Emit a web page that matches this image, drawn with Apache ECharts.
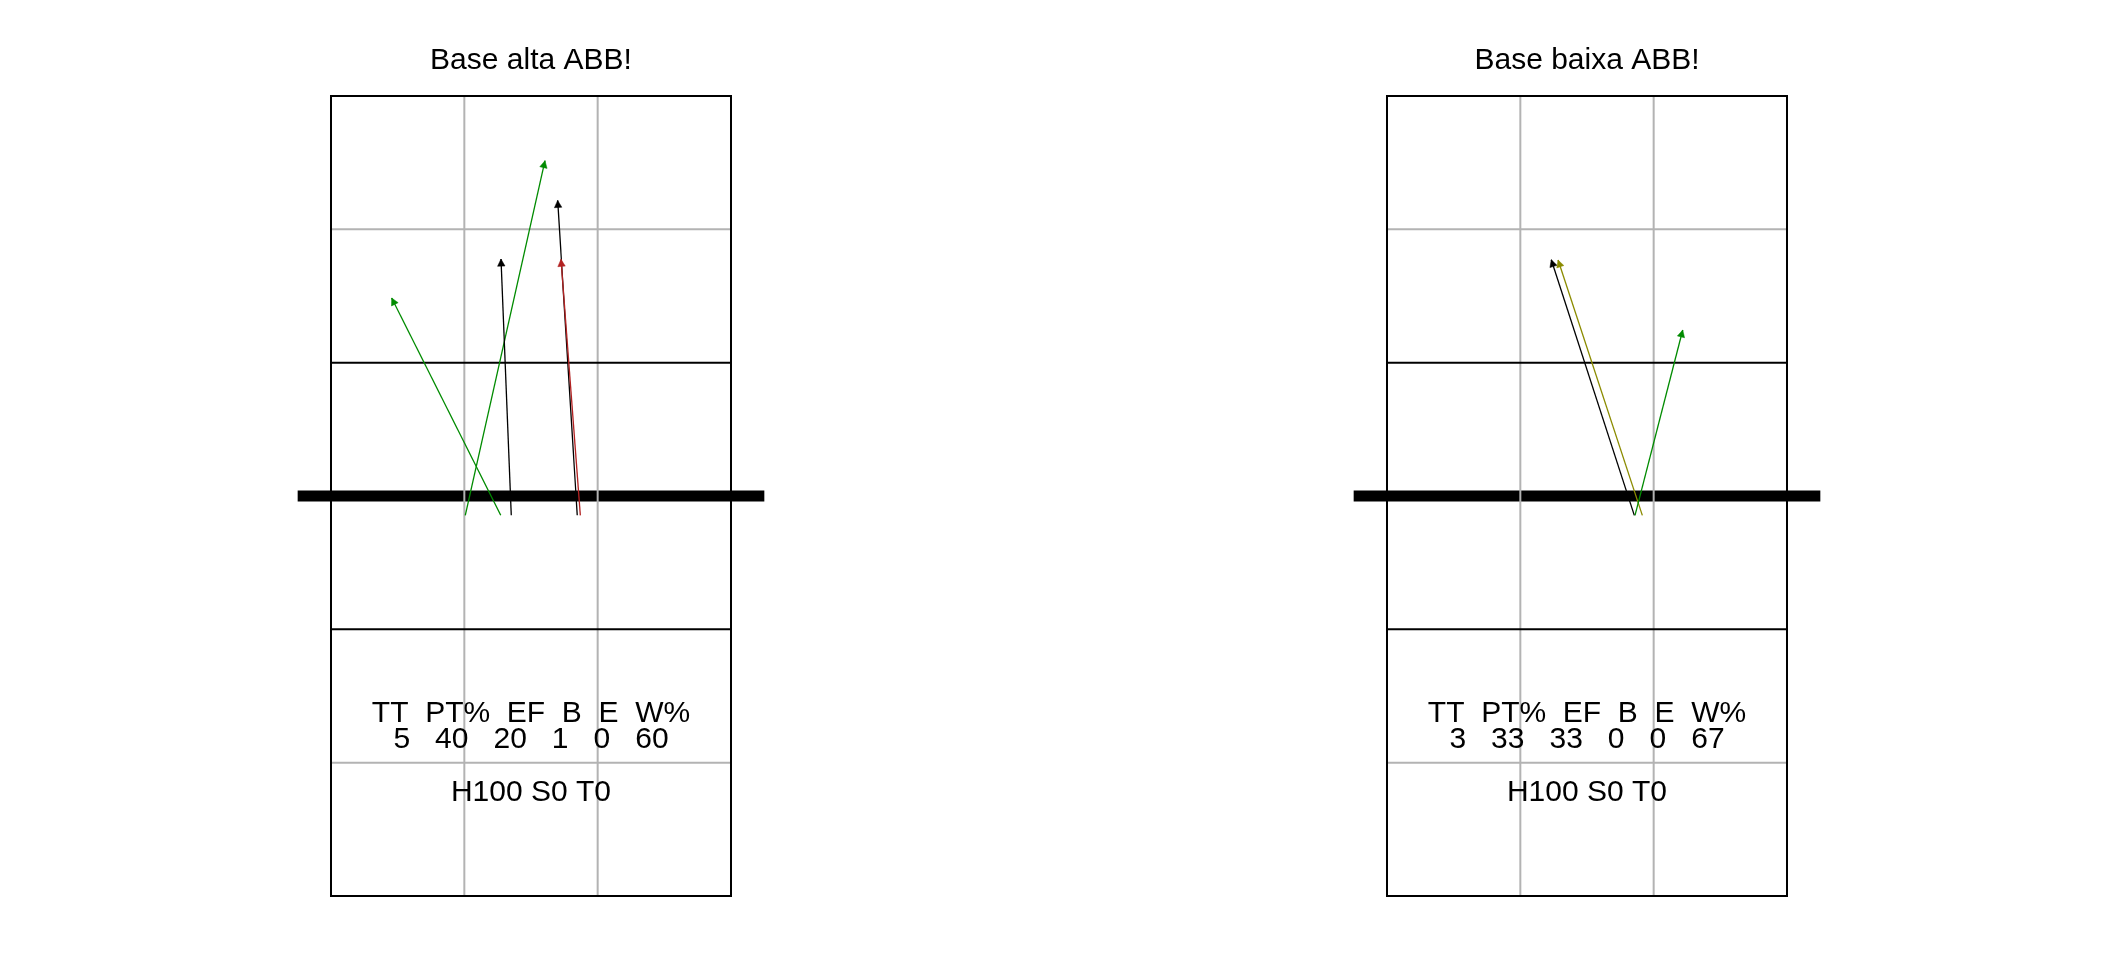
<!DOCTYPE html>
<html><head><meta charset="utf-8">
<script src="https://cdn.jsdelivr.net/npm/echarts@6/dist/echarts.min.js"></script>
<style>html,body{margin:0;padding:0;background:#fff}#chart{width:2112px;height:960px}</style>
</head><body><div id="chart"></div>
<script>
// ---- data ----
const panelTitles = ['Base alta ABB!', 'Base baixa ABB!'];
const statHeaders = ['TT', 'PT%', 'EF', 'B', 'E', 'W%'];
const statsAlta = [5, 40, 20, 1, 0, 60];
const statsBaixa = [3, 33, 33, 0, 0, 67];
const zoneSummary = ['H100 S0 T0', 'H100 S0 T0'];

// attack arrows, court coordinates (x 0.5-3.5, y 0.5-6.5, net at 3.5)
const altaStartX = [1.507, 1.773, 1.852, 2.347, 2.370];
const altaStartY = [3.355, 3.355, 3.355, 3.355, 3.355];
const altaEndX   = [2.105, 0.955, 1.775, 2.200, 2.225];
const altaEndY   = [6.015, 4.985, 5.277, 5.717, 5.275];
const altaOutcome = ['#', '#', '+', '+', '/'];

const baixaStartX = [2.355, 2.415, 2.360];
const baixaStartY = [3.355, 3.355, 3.355];
const baixaEndX   = [1.732, 1.783, 2.718];
const baixaEndY   = [5.272, 5.270, 4.745];
const baixaOutcome = ['+', '!', '#'];

// court geometry
const greyVerticalX = [1.5, 2.5];
const greyHorizontalY = [1.5, 5.5];
const attackLineY = [2.5, 4.5];
const netY = 3.5;

// ---- styles ----
const outcomeColor = { '#': '#008B00', '+': '#000000', '/': '#B22222', '!': '#8B8B00' };
const FONT = '"Liberation Sans", Arial, sans-serif';
const gridLefts = [264.333, 1320.333];

const chart = echarts.init(document.getElementById('chart'));

function segSeries(idx, segs, color, width, z) {
  return {
    type: 'custom', xAxisIndex: idx, yAxisIndex: idx, z: z, silent: true,
    data: segs, encode: { x: [0, 2], y: [1, 3] },
    renderItem: function (params, api) {
      const a = api.coord([api.value(0), api.value(1)]);
      const b = api.coord([api.value(2), api.value(3)]);
      return { type: 'line', shape: { x1: a[0], y1: a[1], x2: b[0], y2: b[1] },
        style: { stroke: color, lineWidth: width, lineCap: 'butt' } };
    }
  };
}

function rectSeries(idx, z) {
  return {
    type: 'custom', xAxisIndex: idx, yAxisIndex: idx, z: z, silent: true,
    data: [[0.5, 0.5, 3.5, 6.5]], encode: { x: [0, 2], y: [1, 3] },
    renderItem: function (params, api) {
      const a = api.coord([api.value(0), api.value(1)]);
      const b = api.coord([api.value(2), api.value(3)]);
      return { type: 'rect', shape: { x: a[0], y: b[1], width: b[0] - a[0], height: a[1] - b[1] },
        style: { stroke: '#000', lineWidth: 2, fill: null } };
    }
  };
}

function arrowSeries(idx, sx, sy, ex, ey, outcome) {
  const data = sx.map((v, i) => [v, sy[i], ex[i], ey[i]]);
  return {
    type: 'custom', xAxisIndex: idx, yAxisIndex: idx, z: 10, silent: true,
    data: data, encode: { x: [0, 2], y: [1, 3] },
    renderItem: function (params, api) {
      const p0 = api.coord([api.value(0), api.value(1)]);
      const p1 = api.coord([api.value(2), api.value(3)]);
      const color = outcomeColor[outcome[params.dataIndex]];
      const ang = Math.atan2(p1[1] - p0[1], p1[0] - p0[0]);
      const L = 8, a = Math.PI / 6.5;
      const h1 = [p1[0] - L * Math.cos(ang - a), p1[1] - L * Math.sin(ang - a)];
      const h2 = [p1[0] - L * Math.cos(ang + a), p1[1] - L * Math.sin(ang + a)];
      return { type: 'group', children: [
        { type: 'line', shape: { x1: p0[0], y1: p0[1], x2: p1[0], y2: p1[1] }, style: { stroke: color, lineWidth: 1.3 } },
        { type: 'polygon', shape: { points: [p1, h1, h2] }, style: { fill: color, stroke: color, lineWidth: 0.5 } }
      ] };
    }
  };
}

function textSeries(idx, items) {
  return {
    type: 'custom', xAxisIndex: idx, yAxisIndex: idx, z: 12, silent: true,
    data: items.map(t => [t[0], t[1]]), encode: { x: 0, y: 1 },
    renderItem: function (params, api) {
      const p = api.coord([api.value(0), api.value(1)]);
      return { type: 'text', x: p[0], y: p[1],
        style: { text: items[params.dataIndex][2], font: '30px ' + FONT, fill: '#000',
          align: 'center', verticalAlign: 'middle' } };
    }
  };
}

function panelSeries(idx, title, stats, zone, sx, sy, ex, ey, outcome) {
  const greySegs = greyVerticalX.map(x => [x, 0.5, x, 6.5])
    .concat(greyHorizontalY.map(y => [0.5, y, 3.5, y]));
  const blackSegs = attackLineY.map(y => [0.5, y, 3.5, y]);
  return [
    segSeries(idx, [[0.25, netY, 3.75, netY]], '#000', 11, 1),
    segSeries(idx, greySegs, '#B3B3B3', 2, 2),
    segSeries(idx, blackSegs, '#000', 2, 3),
    rectSeries(idx, 4),
    arrowSeries(idx, sx, sy, ex, ey, outcome),
    textSeries(idx, [
      [2, 6.768, title],
      [2, 1.869, statHeaders.join('  ')],
      [2, 1.674, stats.join('   ')],
      [2, 1.272, zone]
    ])
  ];
}

const option = {
  backgroundColor: '#fff',
  animation: false,
  grid: gridLefts.map(l => ({ left: l, top: 96, width: 533.333, height: 800, show: false })),
  xAxis: [0, 1].map(i => ({ gridIndex: i, type: 'value', min: 0, max: 4, show: false })),
  yAxis: [0, 1].map(i => ({ gridIndex: i, type: 'value', min: 0.5, max: 6.5, show: false })),
  series: [].concat(
    panelSeries(0, panelTitles[0], statsAlta, zoneSummary[0], altaStartX, altaStartY, altaEndX, altaEndY, altaOutcome),
    panelSeries(1, panelTitles[1], statsBaixa, zoneSummary[1], baixaStartX, baixaStartY, baixaEndX, baixaEndY, baixaOutcome)
  )
};
chart.setOption(option);
</script></body></html>
